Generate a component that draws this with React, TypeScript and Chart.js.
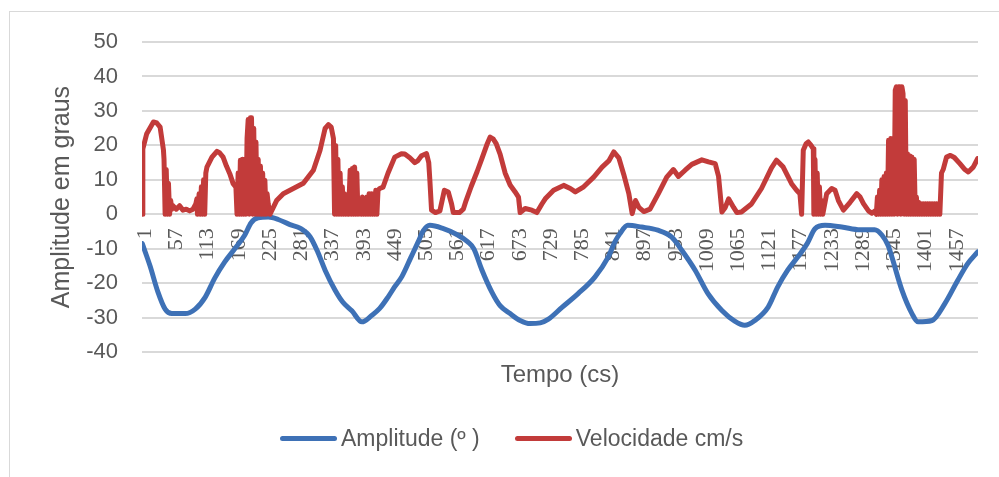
import React, { useEffect, useRef } from 'react';
import { Chart, registerables } from 'chart.js';

Chart.register(...registerables);

// x-axis tick labels (sample index, "Tempo (cs)")
const X_TICKS = [1, 57, 113, 169, 225, 281, 337, 393, 449, 505, 561, 617, 673, 729, 785, 841, 897, 953, 1009, 1065, 1121, 1177, 1233, 1289, 1345, 1401, 1457];
const X_MIN = 0.5;
const X_MAX = 1500.5;

const Y_MIN = -40;
const Y_MAX = 50;
const Y_STEP = 10;

const SERIES_NAMES = ['Amplitude (º )', 'Velocidade cm/s'];
const SERIES_COLORS = ['#3E71B6', '#C23B3A'];

// Amplitude (º): [sample, value]
const AMPLITUDE: [number, number][] = [
  [1, -8.5], [15, -15], [29, -22.5], [42, -27.5], [54, -28.8], [78, -28.8], [96, -27.5], [114, -24],
  [131, -18.5], [149, -13.8], [167, -10], [185, -6], [196, -2.5], [209, -1], [227, -0.8], [245, -1.5],
  [266, -3], [284, -4], [302, -6.5], [316, -11], [329, -16.2], [347, -22], [361, -25.5], [377, -28],
  [395, -31.2], [413, -29.3], [427, -27.3], [442, -24], [454, -21], [467, -18], [483, -12.5], [496, -8],
  [505, -4.8], [517, -3.2], [539, -4], [567, -6], [585, -8], [596, -10], [610, -16], [628, -22.5],
  [643, -26.5], [661, -28.8], [679, -30.8], [697, -31.7], [715, -31.5], [729, -30.5], [754, -27], [783, -23],
  [813, -18.2], [837, -12.4], [849, -8], [858, -5.6], [872, -3.2], [897, -3.7], [926, -4.6], [951, -6.6],
  [969, -10.4], [993, -16.2], [1016, -23], [1041, -27.9], [1064, -31], [1082, -32.2], [1100, -30.8], [1124, -26.9],
  [1141, -21.1], [1159, -16.2], [1177, -12.4], [1194, -8.5], [1208, -4.2], [1226, -3.2], [1256, -3.7], [1289, -4.5],
  [1315, -4.5], [1328, -6], [1339, -9], [1346, -12.4], [1364, -22], [1382, -28.8], [1393, -31.2], [1418, -30.8],
  [1441, -25.9], [1464, -19.2], [1482, -14.3], [1500, -10.9],
];

// Velocidade cm/s: [sample, value]
const VELOCIDADE: [number, number][] = [
  [1, 0], [2, 19], [9, 23.4], [21, 26.8], [27, 26.5], [33, 25.3], [39, 18.6],
  [40, 16], [42, 0], [44, 13], [46, 0], [48, 9], [50, 0], [52, 4], [54, 1.5],
  [56, 2.5], [62, 1.5], [68, 2.5], [74, 1.2], [80, 1.5], [86, 1], [92, 1.5], [97, 3],
  [99, 4.5], [100, 0], [103, 6], [105, 0], [107, 8], [109, 0], [111, 10], [113, 0], [115, 12],
  [117, 13.7], [126, 16.6], [135, 18.3], [140, 17.8], [146, 16.6], [152, 14], [158, 11.8], [164, 8.9], [169, 7.9],
  [171, 0], [173, 12], [175, 0], [177, 15.7], [179, 0], [181, 16], [183, 0], [185, 16], [187, 0], [189, 22],
  [191, 27.5], [193, 0], [195, 28], [197, 28], [199, 0], [201, 25], [203, 0], [205, 21], [207, 0], [209, 16],
  [211, 0], [213, 14], [215, 0], [217, 12], [219, 0], [221, 9.9], [223, 0], [225, 6], [227, 3], [230, 0],
  [242, 4], [254, 6], [272, 7.5], [290, 9], [308, 12.8], [320, 18.6], [329, 24.9], [335, 26], [340, 25.3], [344, 22],
  [346, 0], [348, 20], [350, 0], [352, 16], [354, 0], [356, 12], [358, 0], [360, 8], [362, 0], [364, 6], [366, 0], [368, 4],
  [371, 0], [374, 12.8], [376, 0], [378, 13.3], [380, 0], [382, 13.7], [384, 0], [386, 12], [388, 0], [390, 2],
  [392, 4], [394, 0], [396, 5], [398, 0], [400, 4], [402, 0], [404, 5], [406, 0], [408, 6], [410, 0], [412, 6],
  [414, 0], [416, 6], [418, 0], [420, 7], [422, 0], [424, 7], [427, 7.5],
  [433, 7.9], [442, 12], [454, 16.6], [466, 17.6], [472, 17.5], [481, 16.4], [490, 15], [495, 15.5], [502, 17],
  [511, 17.6], [515, 15], [517, 9.9], [520, 1.2], [527, 0.5], [535, 1], [543, 7], [550, 6.5], [556, 3], [559, 0.5],
  [570, 0.5], [577, 1.5], [582, 4], [591, 8], [602, 12.5], [610, 16], [620, 20.5], [625, 22.4], [631, 21.8],
  [636, 20.5], [643, 17.5], [652, 12], [661, 8.5], [670, 6.5], [676, 5], [679, 0.5], [688, 1.7], [700, 1.2],
  [709, 0.5], [718, 3], [724, 4.5], [739, 7], [757, 8.4], [769, 7.5], [778, 6.5], [793, 8], [811, 10.8],
  [826, 13.7], [838, 15.5], [847, 18.1], [856, 16.4], [865, 11.5], [874, 6], [880, 0.2], [886, 4], [892, 2],
  [901, 0.8], [912, 1.5], [927, 6], [942, 10.8], [954, 13], [963, 11], [975, 12.8], [987, 14.5], [1005, 15.8],
  [1017, 15.2], [1029, 14.7], [1035, 11], [1041, 0.7], [1047, 2], [1053, 4.5], [1062, 2], [1068, 0.5], [1076, 0.7],
  [1094, 3], [1112, 7.5], [1130, 13.5], [1139, 15.7], [1151, 13.7], [1166, 8.9], [1175, 7], [1181, 6],
  [1184, 0], [1187, 18.6], [1192, 20.5], [1196, 21], [1201, 20], [1205, 19],
  [1206, 0], [1208, 16], [1210, 0], [1212, 12], [1214, 0], [1216, 8], [1218, 0], [1220, 4], [1222, 0],
  [1229, 6], [1238, 7.5], [1244, 7], [1250, 4], [1259, 1.2], [1271, 3.5], [1283, 6], [1289, 5], [1295, 3.1],
  [1304, 1], [1310, 0.3], [1316, 1],
  [1318, 0], [1320, 5], [1322, 0], [1324, 7], [1326, 0], [1328, 10], [1330, 0], [1332, 11], [1334, 0], [1336, 12],
  [1338, 0], [1340, 21.5], [1342, 0], [1344, 22], [1346, 0], [1348, 22], [1350, 0], [1352, 36], [1354, 37], [1356, 0],
  [1358, 37], [1360, 37], [1362, 0], [1364, 37], [1366, 35], [1368, 0], [1370, 33], [1372, 0], [1374, 17.6], [1376, 0],
  [1378, 17], [1380, 0], [1382, 16.6], [1384, 0], [1386, 16], [1388, 0], [1390, 5], [1392, 0], [1394, 3.5], [1396, 0],
  [1398, 3.1], [1400, 0], [1402, 3.1], [1404, 0], [1406, 3.1], [1408, 0], [1410, 3.1], [1412, 0], [1414, 3.1], [1416, 0],
  [1418, 3.1], [1420, 0], [1422, 3.1], [1424, 0], [1426, 3.1], [1428, 0], [1430, 3.1], [1432, 0],
  [1435, 12], [1438, 13], [1444, 16.6], [1451, 17.1], [1458, 16.5], [1468, 14.7], [1477, 13], [1483, 12.3],
  [1492, 13.7], [1500, 16.2],
];

const TEXT_COLOR = '#595959';
const SANS = "'Liberation Sans', Arial, sans-serif";
const SERIF = "'Liberation Serif', 'DejaVu Serif', serif";
const CLEAR = 'rgba(0,0,0,0)';

export default function App() {
  const ref = useRef<HTMLCanvasElement>(null);

  useEffect(() => {
    if (!ref.current) return;
    const chart = new Chart(ref.current, {
      type: 'line',
      data: {
        datasets: [
          {
            label: SERIES_NAMES[0],
            data: AMPLITUDE as any,
            borderColor: SERIES_COLORS[0],
            backgroundColor: SERIES_COLORS[0],
            borderWidth: 5,
            pointRadius: 0,
            cubicInterpolationMode: 'monotone',
            borderJoinStyle: 'round',
            borderCapStyle: 'round',
            fill: false,
            order: 1,
          },
          {
            label: SERIES_NAMES[1],
            data: VELOCIDADE as any,
            borderColor: SERIES_COLORS[1],
            backgroundColor: SERIES_COLORS[1],
            borderWidth: 5,
            pointRadius: 0,
            tension: 0,
            borderJoinStyle: 'round',
            borderCapStyle: 'round',
            fill: false,
            order: 0,
          },
        ],
      },
      options: {
        responsive: false,
        animation: false,
        events: [],
        layout: { padding: { left: 30, right: 21, top: 30, bottom: 87 } },
        plugins: {
          legend: { display: false },
          tooltip: { enabled: false },
        },
        scales: {
          x: {
            type: 'linear',
            position: { y: 0 } as any,
            min: X_MIN,
            max: X_MAX,
            afterBuildTicks: (s: any) => {
              s.ticks = X_TICKS.map((v) => ({ value: v }));
            },
            afterFit: (s: any) => {
              s.height = 0;
            },
            grid: { display: false, drawTicks: false },
            border: { display: false },
            ticks: {
              autoSkip: false,
              minRotation: 90,
              maxRotation: 90,
              padding: 14,
              labelOffset: 3,
              color: TEXT_COLOR,
              font: { family: SERIF, size: 22 },
              callback: (v: any) => String(v),
            },
          },
          xt: {
            type: 'linear',
            axis: 'x',
            position: 'bottom',
            min: X_MIN,
            max: X_MAX,
            grid: { display: false, drawTicks: false },
            border: { display: false },
            ticks: { display: false },
            title: {
              display: true,
              text: 'Tempo (cs)',
              color: TEXT_COLOR,
              font: { family: SANS, size: 24 },
              padding: { top: 9, bottom: 0 },
            },
          } as any,
          y: {
            type: 'linear',
            min: Y_MIN,
            max: Y_MAX,
            afterFit: (s: any) => {
              s.width = 102;
            },
            grid: { color: '#D9D9D9', lineWidth: 2, drawTicks: true, tickLength: 24, tickColor: CLEAR },
            border: { display: false },
            ticks: {
              stepSize: Y_STEP,
              padding: 0,
              color: TEXT_COLOR,
              font: { family: SANS, size: 22 },
            },
            title: {
              display: true,
              text: 'Amplitude em graus',
              color: TEXT_COLOR,
              font: { family: SANS, size: 25 },
              padding: { top: 7, bottom: 0 },
            },
          },
        },
      },
    });
    return () => chart.destroy();
  }, []);

  return (
    <div style={{ position: 'fixed', left: 0, top: 0, width: 999, height: 477, overflow: 'hidden', background: '#ffffff' }}>
      <div
        style={{
          position: 'absolute',
          left: 9,
          top: 11,
          width: 990,
          height: 466,
          borderTop: '1px solid #D9D9D9',
          borderLeft: '1px solid #D9D9D9',
          boxSizing: 'border-box',
        }}
      >
        <canvas ref={ref} width={989} height={465} style={{ display: 'block' }} />
      </div>
      <div
        style={{
          position: 'absolute',
          left: 280,
          top: 424,
          height: 28,
          display: 'flex',
          alignItems: 'center',
          fontFamily: SANS,
          fontSize: 23,
          lineHeight: '28px',
          color: TEXT_COLOR,
          whiteSpace: 'nowrap',
        }}
      >
        {SERIES_NAMES.map((name, i) => (
          <div key={name} style={{ display: 'flex', alignItems: 'center', marginRight: i === 0 ? 35 : 0 }}>
            <span
              style={{
                display: 'inline-block',
                width: 57,
                height: 5,
                borderRadius: 2.5,
                background: SERIES_COLORS[i],
                marginRight: 4,
              }}
            />
            <span>{name}</span>
          </div>
        ))}
      </div>
    </div>
  );
}
